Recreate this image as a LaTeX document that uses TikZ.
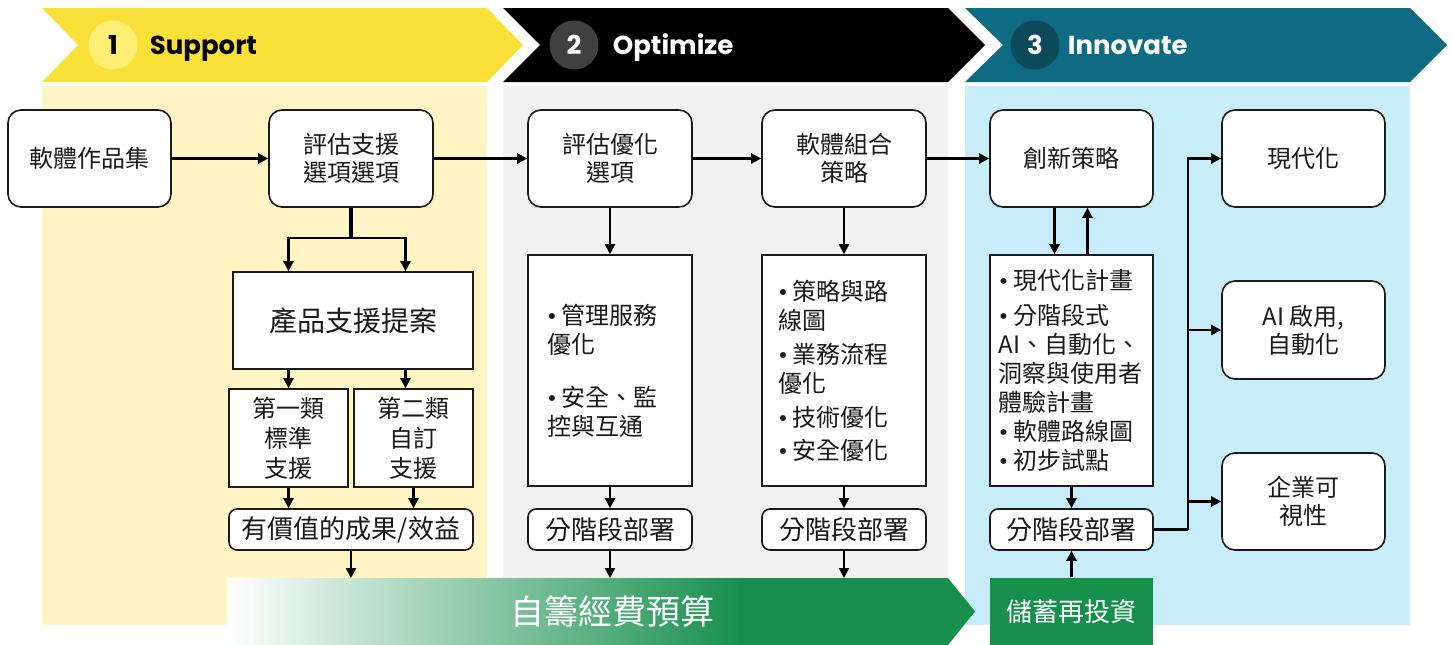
\documentclass[tikz,border=0pt]{standalone}
\usepackage{fontspec}
\setmainfont{Noto Sans CJK TC}
\newfontfamily\headfont{Poppins}
\usepackage{tikz}
\usetikzlibrary{arrows.meta, calc, positioning}

\definecolor{bannerYellow}{HTML}{F9E13A}
\definecolor{badgeYellow}{HTML}{FDEF74}
\definecolor{panelYellow}{HTML}{FFF5C4}
\definecolor{panelGrey}{HTML}{F1F1F1}
\definecolor{badgeGrey}{HTML}{404040}
\definecolor{bannerTeal}{HTML}{0F6B84}
\definecolor{badgeTeal}{HTML}{0B4A5B}
\definecolor{panelTeal}{HTML}{C7EEF8}
\definecolor{fundGreen}{HTML}{17904E}
\definecolor{ink}{HTML}{1A1A1A}

\newcommand{\itemdot}{{\headfont •}\hspace{5pt}}

\begin{document}
\begin{tikzpicture}[x=1pt, y=-1pt,
    >={Triangle[length=10pt, width=10pt]},
    flow/.style={line width=2.3pt},
    box/.style={draw=ink, line width=1.6pt, fill=white, text=ink, align=center, inner sep=0pt,
        minimum width=164pt, minimum height=97pt, font=\fontsize{24}{28}\selectfont},
    rbox/.style={box, rounded corners=13pt},
    sbox/.style={box, rounded corners=8pt, minimum height=41pt, font=\fontsize{26}{30}\selectfont},
    list/.style={box, minimum height=231pt, align=left, font=\fontsize{24}{29}\selectfont},
    head/.style={inner sep=0pt, anchor=base west, font=\headfont\bfseries\fontsize{26}{30}\selectfont},
    badge/.style={circle, minimum size=49pt, inner sep=0pt, font=\headfont\bfseries\fontsize{26}{30}\selectfont}
  ]
  \useasboundingbox (0, 0) rectangle (1452, 645);

  % phase banners and panels
  \fill[bannerYellow] (42, 8) -- (487, 8) -- (523, 45) -- (487, 82) -- (42, 82) -- (78, 45) -- cycle;
  \fill[black] (503, 8) -- (948, 8) -- (985, 45) -- (948, 82) -- (503, 82) -- (540, 45) -- cycle;
  \fill[bannerTeal] (965, 8) -- (1410, 8) -- (1447, 45) -- (1410, 82) -- (965, 82) -- (1003, 45) -- cycle;
  \fill[panelYellow] (42, 86) rectangle (487, 625);
  \fill[panelGrey] (503, 86) rectangle (948, 625);
  \fill[panelTeal] (965, 86) rectangle (1410, 625);

  \node[badge, fill=badgeYellow, text=black] (b1) at (113, 45) {1};
  \node[head, text=black] (h1) at ([xshift=12pt]b1.base east) {Support};
  \node[badge, fill=badgeGrey, text=white] (b2) at (574, 45) {2};
  \node[head, text=white] (h2) at ([xshift=14pt]b2.base east) {Optimize};
  \node[badge, fill=badgeTeal, text=white] (b3) at (1035, 45) {3};
  \node[head, text=white] (h3) at ([xshift=8pt]b3.base east) {Innovate};

  % self-funded budget bar
  \fill[fundGreen] (227, 578) -- (948, 578) -- (975, 611.5) -- (948, 645) -- (227, 645) -- cycle;
  \fill[left color=white, right color=fundGreen] (227, 578) rectangle (740, 645);
  \node[text=white, font=\fontsize{34}{40}\selectfont] (budget) at (612, 611) {自籌經費預算};
  \coordinate (barTop) at (612, 578);

  % top row
  \node[rbox, minimum width=163pt] (port) at (89.5, 158.5) {軟體作品集};
  \node[rbox] (opt1) at (351, 158.5) {評估支援\\選項選項};
  \node[rbox] (opt2) at (610, 158.5) {評估優化\\選項};
  \node[rbox] (strat) at (844, 158.5) {軟體組合\\策略};
  \node[rbox, minimum width=163pt] (inno) at (1071.5, 158.5) {創新策略};
  \node[rbox, minimum width=163pt] (modern) at (1303.5, 158.5) {現代化};
  \node[rbox, minimum width=163pt, minimum height=98pt] (ai) at (1303.5, 330) {AI 啟用,\\自動化};
  \node[rbox, minimum width=163pt] (ent) at (1303.5, 501.5) {企業可\\視性};

  % support column
  \node[box, minimum width=240pt, font=\fontsize{28}{32}\selectfont] (prop) at (353, 320.5) {產品支援提案};
  \node[box, minimum width=119pt, minimum height=98pt, font=\fontsize{24}{30}\selectfont] (tier1) at (288.5, 438) {第一類\\標準\\支援};
  \node[box, minimum width=119pt, minimum height=98pt, font=\fontsize{24}{30}\selectfont] (tier2) at (413.5, 438) {第二類\\自訂\\支援};
  \node[sbox, minimum width=244pt] (value) at (351, 529.5) {有價值的成果/效益};

  % optimize columns
  \node[list, text width=126pt] (plan2) at (610, 370.5) {\itemdot 管理服務\\優化\\[24pt]\itemdot 安全、監\\控與互通};
  \node[sbox] (phase2) at (610, 529.5) {分階段部署};
  \node[list, text width=132pt] (plan3) at (844, 370.5) {\itemdot 策略與路\\線圖\\[5pt]\itemdot 業務流程\\優化\\[5pt]\itemdot 技術優化\\[4pt]\itemdot 安全優化};
  \node[sbox] (phase3) at (844, 529.5) {分階段部署};

  % innovate column
  \node[list, minimum width=163pt, text width=146pt] (plan4) at (1071.5, 370.5) {\itemdot 現代化計畫\\[6pt]\itemdot 分階段式\\AI、自動化、\\洞察與使用者\\體驗計畫\\\itemdot 軟體路線圖\\\itemdot 初步試點};
  \node[sbox, minimum width=163pt] (phase4) at (1071.5, 529.5) {分階段部署};
  \node[box, draw=none, fill=fundGreen, text=white, minimum width=163pt, minimum height=67pt,
      font=\fontsize{26}{30}\selectfont] (reinv) at (1071.5, 611.5) {儲蓄再投資};
  \coordinate (trunk) at (1188, 529.5);

  \draw[flow]
  (port) edge[->] (opt1)
  (opt1) edge[->] (opt2)
  (opt2) edge[->] (strat)
  (strat) edge[->] (inno);

  \coordinate (split) at (351, 238);
  \draw[line width=3.5pt] (opt1.south) -- (split);
  \draw[flow, ->] (split) -| (prop.north -| tier1);
  \draw[flow, ->] (split) -| ([xshift=-8pt]prop.north -| tier2);
  \draw[flow]
  (prop.south -| tier1) edge[->] (tier1)
  ([xshift=-8pt]prop.south -| tier2) edge[->] ([xshift=-8pt]tier2.north)
  (tier1) edge[->] (tier1 |- value.north)
  (tier2) edge[->] (tier2 |- value.north)
  (value) edge[->] (value |- barTop);

  \draw[flow]
  (opt2) edge[->] (plan2)
  (plan2) edge[->] (phase2)
  (phase2) edge[->] (phase2 |- barTop)
  (strat) edge[->] (plan3)
  (plan3) edge[->] (phase3)
  (phase3) edge[->] (phase3 |- barTop);

  \draw[flow]
  ([xshift=-17pt]inno.south) edge[->] ([xshift=-17pt]plan4.north)
  ([xshift=16pt]plan4.north) edge[->] ([xshift=16pt]inno.south)
  (plan4) edge[->] (phase4)
  (reinv) edge[->] (phase4);

  \draw[line width=3.5pt] (phase4.east) -- (trunk);
  \draw[flow, ->] (trunk) |- (modern);
  \draw[flow, ->] (trunk) |- (ai);
  \draw[flow, ->] (trunk) |- (ent);
\end{tikzpicture}
\end{document}
